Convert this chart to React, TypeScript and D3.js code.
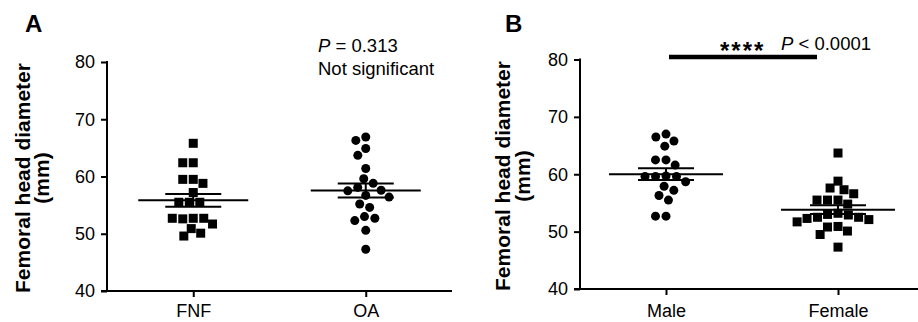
import React, { useEffect, useRef } from "react";
import * as d3 from "d3";

// ---- data ----
const yTicks = [40, 50, 60, 70, 80];
const catsA = ["FNF", "OA"];
const catsB = ["Male", "Female"];
const fnfVals = [65.8, 62.4, 62.4, 59.5, 59.5, 58.8, 57.2, 55.5, 55.5, 55.5, 52.7, 52.6, 52.7, 52.7, 51.7, 50.9, 50.1, 49.6];
const oaVals = [66.9, 66.3, 64.9, 63.7, 61.4, 59.6, 58.8, 58.1, 57.6, 57.5, 56.7, 56.4, 55.2, 54.6, 53.0, 52.7, 52.3, 50.6, 47.3];
const maleVals = [67.0, 66.5, 65.8, 64.9, 62.5, 62.5, 61.6, 59.7, 59.6, 59.6, 59.6, 58.7, 57.9, 57.2, 56.3, 55.5, 52.7, 52.7];
const femaleVals = [63.7, 58.8, 57.6, 57.3, 56.6, 55.5, 55.5, 55.5, 54.8, 53.2, 53.0, 52.9, 52.5, 52.5, 52.3, 52.1, 51.7, 50.9, 50.8, 50.1, 49.5, 47.3];
const shapesA = ["square", "circle"];
const shapesB = ["circle", "square"];
const yTitle = ["Femoral head diameter", "(mm)"];
const annotA = ["= 0.313", "Not significant"];
const annotB = ["****", "< 0.0001"];

const FONT = "'Liberation Sans', Arial, sans-serif";
const W = 918;
const H = 322;

function swarm(values: number[], y: (v: number) => number, d: number): number[] {
  const placed: { x: number; y: number }[] = [];
  const out: number[] = [];
  for (const v of values) {
    const py = y(v);
    const cands = [0];
    for (const p of placed) {
      const dy = Math.abs(p.y - py);
      if (dy < d) {
        const off = Math.sqrt(d * d - dy * dy);
        cands.push(p.x + off, p.x - off);
      }
    }
    cands.sort((a, b) => Math.abs(a) - Math.abs(b) || a - b);
    let chosen = 0;
    for (const c of cands) {
      if (placed.every((p) => (p.x - c) ** 2 + (p.y - py) ** 2 >= d * d - 1e-6)) {
        chosen = c;
        break;
      }
    }
    placed.push({ x: chosen, y: py });
    out.push(chosen);
  }
  return out;
}

type PanelProps = {
  cats: string[];
  groups: number[][];
  shapes: string[];
  xRange: [number, number];
  yRange: [number, number];
  axisEnd: number;
  xPad: number;
  meanHalf: number;
};

function Panel({ cats, groups, shapes, xRange, yRange, axisEnd, xPad, meanHalf }: PanelProps) {
  const yRef = useRef<SVGGElement>(null);
  const xRef = useRef<SVGGElement>(null);
  const x = d3.scalePoint<string>().domain(cats).range(xRange).padding(0.5);
  const y = d3.scaleLinear().domain([40, 80]).range(yRange);

  useEffect(() => {
    const ya = d3.axisLeft(y).tickValues(yTicks).tickSize(6).tickSizeOuter(0).tickPadding(6);
    const gy = d3.select(yRef.current!);
    gy.call(ya as any);
    gy.selectAll("text").attr("font-size", 18).attr("font-family", FONT).attr("fill", "#000");
    gy.selectAll("line").attr("stroke-width", 2);
    gy.select(".domain").attr("stroke-width", 2).attr("d", `M0,${yRange[1] - 1}V${yRange[0]}`);

    const xa = d3.axisBottom(x).tickSize(6).tickSizeOuter(0).tickPadding(xPad);
    const gx = d3.select(xRef.current!);
    gx.call(xa as any);
    gx.selectAll("text").attr("font-size", 18).attr("font-family", FONT).attr("fill", "#000");
    gx.selectAll("line").attr("stroke-width", 2);
    gx.select(".domain").attr("stroke-width", 2).attr("d", `M${xRange[0] - 6},0H${axisEnd}`);
  });

  const size = 9;
  return (
    <g>
      <g ref={yRef} transform={`translate(${xRange[0]},0)`} />
      <g ref={xRef} transform={`translate(0,${yRange[0]})`} />
      {groups.map((vals, gi) => {
        const cx = x(cats[gi])!;
        const offs = swarm(vals, y, 10.5);
        const mean = d3.mean(vals)!;
        const sem = d3.deviation(vals)! / Math.sqrt(vals.length);
        return (
          <g key={gi}>
            {vals.map((v, i) =>
              shapes[gi] === "square" ? (
                <rect key={i} x={cx + offs[i] - size / 2} y={y(v) - size / 2} width={size} height={size} fill="#000" />
              ) : (
                <circle key={i} cx={cx + offs[i]} cy={y(v)} r={size / 2} fill="#000" />
              )
            )}
            <line x1={cx - meanHalf} x2={cx + meanHalf} y1={y(mean)} y2={y(mean)} stroke="#000" strokeWidth={2} />
            <line x1={cx - 28} x2={cx + 28} y1={y(mean + sem)} y2={y(mean + sem)} stroke="#000" strokeWidth={2} />
            <line x1={cx - 28} x2={cx + 28} y1={y(mean - sem)} y2={y(mean - sem)} stroke="#000" strokeWidth={2} />
            <line x1={cx} x2={cx} y1={y(mean + sem)} y2={y(mean - sem)} stroke="#000" strokeWidth={2} />
          </g>
        );
      })}
    </g>
  );
}

function YTitle({ x1, x2, cy }: { x1: number; x2: number; cy: number }) {
  return (
    <g fontFamily={FONT} fontWeight="bold" fontSize={21} textAnchor="middle">
      <text transform={`translate(${x1},${cy}) rotate(-90)`}>{yTitle[0]}</text>
      <text transform={`translate(${x2},${cy}) rotate(-90)`}>{yTitle[1]}</text>
    </g>
  );
}

export default function App() {
  const xB = d3.scalePoint<string>().domain(catsB).range([580, 924]).padding(0.5);
  return (
    <svg width={W} height={H} style={{ position: "absolute", left: 0, top: 0, background: "#fff" }}>
      <rect width={W} height={H} fill="#fff" />
      {/* Panel A */}
      <text x={25} y={32} fontFamily={FONT} fontWeight="bold" fontSize={24}>A</text>
      <YTitle x1={30} x2={49} cy={178} />
      <Panel
        cats={catsA}
        groups={[fnfVals, oaVals]}
        shapes={shapesA}
        xRange={[107, 452]}
        yRange={[291, 62]}
        axisEnd={452}
        xPad={7}
        meanHalf={55}
      />
      <text x={318} y={52} fontFamily={FONT} fontSize={18.5}>
        <tspan fontStyle="italic">P</tspan> {annotA[0]}
      </text>
      <text x={318} y={75} fontFamily={FONT} fontSize={18.5}>{annotA[1]}</text>

      {/* Panel B */}
      <text x={505} y={32} fontFamily={FONT} fontWeight="bold" fontSize={24}>B</text>
      <YTitle x1={510} x2={530} cy={176} />
      <Panel
        cats={catsB}
        groups={[maleVals, femaleVals]}
        shapes={shapesB}
        xRange={[580, 924]}
        yRange={[289, 59.5]}
        axisEnd={918}
        xPad={9}
        meanHalf={57}
      />
      <line x1={xB(catsB[0])! + 3} x2={xB(catsB[1])! - 21} y1={57} y2={57} stroke="#000" strokeWidth={4.5} />
      <text x={720} y={59} fontFamily={FONT} fontWeight="bold" fontSize={24} letterSpacing={2}>{annotB[0]}</text>
      <text x={781} y={50} fontFamily={FONT} fontSize={18.5}>
        <tspan fontStyle="italic">P</tspan> {annotB[1]}
      </text>
    </svg>
  );
}
